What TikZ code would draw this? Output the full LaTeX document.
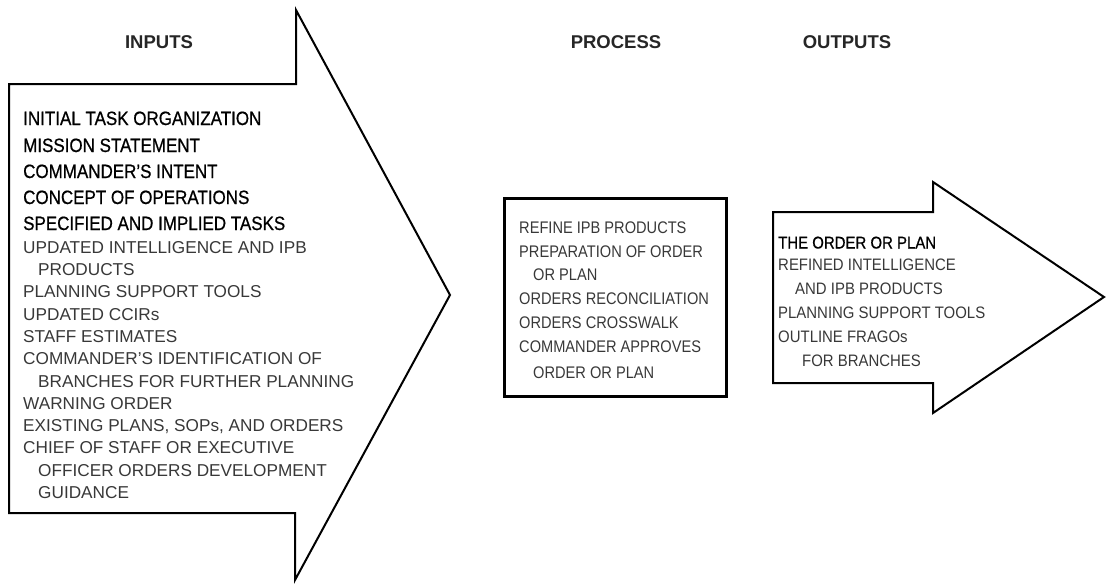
\documentclass[tikz,border=0pt]{standalone}
\usepackage{fontspec}
\setmainfont{Liberation Sans}
\newfontfamily\narrowfont[FakeStretch=0.87]{Liberation Sans}
\newfontfamily\strongfont[FakeStretch=0.88,FakeBold=0.7]{Liberation Sans}
\newfontfamily\semifont[FakeStretch=0.9]{Liberation Sans}
\definecolor{txtgray}{rgb}{0.22,0.22,0.22}
\begin{document}
\begin{tikzpicture}[x=1pt,y=-1pt,
  shapeline/.style={draw=black,line width=2pt,line join=miter},
  header/.style={font=\fontsize{18.5}{20}\selectfont\bfseries,text=black!85,inner sep=0pt},
  strongline/.style={anchor=base west,inner sep=0pt,font=\strongfont\fontsize{19.3}{22}\selectfont,text=black},
  plainline/.style={anchor=base west,inner sep=0pt,font=\fontsize{17.2}{20}\selectfont,text=txtgray},
  boxline/.style={anchor=base west,inner sep=0pt,font=\narrowfont\fontsize{16.8}{20}\selectfont,text=txtgray},
  outline/.style={anchor=base west,inner sep=0pt,font=\semifont\fontsize{16.6}{20}\selectfont,text=txtgray}]
\useasboundingbox (0,0) rectangle (1107,584);
% shapes
\draw[shapeline] (9,84) -- (296,84) -- (296,10) -- (450,295) -- (295,580) -- (295,513) -- (9,513) -- cycle;
\draw[draw=black,line width=3pt] (504,198) rectangle (726,396);
\draw[shapeline] (773,212) -- (933,212) -- (933,182) -- (1104,297) -- (933,413) -- (933,383) -- (773,383) -- cycle;
% headers
\node[header] (hin) at (159,42) {INPUTS};
\node[header] (hpr) at (616,42) {PROCESS};
\node[header] (hout) at (847,42) {OUTPUTS};
% inputs
\node[strongline] (i1) at (23,125) {INITIAL TASK ORGANIZATION};
\node[strongline] (i2) at (23,152) {MISSION STATEMENT};
\node[strongline] (i3) at (23,178) {COMMANDER’S INTENT};
\node[strongline] (i4) at (23,204) {CONCEPT OF OPERATIONS};
\node[strongline] (i5) at (23,230) {SPECIFIED AND IMPLIED TASKS};
\node[plainline] (i6) at (23,253.5) {UPDATED INTELLIGENCE AND IPB};
\node[plainline] (i7) at (38,275.5) {PRODUCTS};
\node[plainline] (i8) at (23,297) {PLANNING SUPPORT TOOLS};
\node[plainline] (i9) at (23,320) {UPDATED CCIRs};
\node[plainline] (i10) at (23,342.5) {STAFF ESTIMATES};
\node[plainline] (i11) at (23,364.5) {COMMANDER’S IDENTIFICATION OF};
\node[plainline] (i12) at (38,387) {BRANCHES FOR FURTHER PLANNING};
\node[plainline] (i13) at (23,409.5) {WARNING ORDER};
\node[plainline] (i14) at (23,431.5) {EXISTING PLANS, SOPs, AND ORDERS};
\node[plainline] (i15) at (23,453.5) {CHIEF OF STAFF OR EXECUTIVE};
\node[plainline] (i16) at (38,476) {OFFICER ORDERS DEVELOPMENT};
\node[plainline] (i17) at (38,498.5) {GUIDANCE};
% process
\node[boxline] (p1) at (519,233) {REFINE IPB PRODUCTS};
\node[boxline] (p2) at (519,257) {PREPARATION OF ORDER};
\node[boxline] (p3) at (533,280.5) {OR PLAN};
\node[boxline] (p4) at (519,304.5) {ORDERS RECONCILIATION};
\node[boxline] (p5) at (519,328.5) {ORDERS CROSSWALK};
\node[boxline] (p6) at (519,352.5) {COMMANDER APPROVES};
\node[boxline] (p7) at (533,378) {ORDER OR PLAN};
% outputs
\node[outline,text=black,font=\strongfont\fontsize{17}{20}\selectfont] (o1) at (778,248.5) {THE ORDER OR PLAN};
\node[outline] (o2) at (778,270.5) {REFINED INTELLIGENCE};
\node[outline] (o3) at (795,294) {AND IPB PRODUCTS};
\node[outline] (o4) at (778,318) {PLANNING SUPPORT TOOLS};
\node[outline] (o5) at (778,342) {OUTLINE FRAGOs};
\node[outline] (o6) at (802,366) {FOR BRANCHES};
\end{tikzpicture}
\end{document}
